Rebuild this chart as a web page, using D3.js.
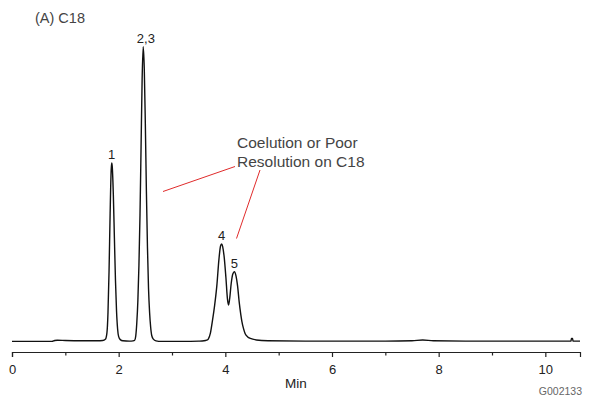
<!DOCTYPE html>
<html>
<head>
<meta charset="utf-8">
<script src="https://cdn.jsdelivr.net/npm/d3@7"></script>
<style>
  html, body { margin: 0; padding: 0; background: #fff; }
  svg { display: block; font-family: "Liberation Sans", Arial, sans-serif; }
</style>
</head>
<body>
<svg id="chart" width="589" height="399"></svg>
<script>
// chromatogram trace (time in min, signal in % of tallest peak)
var traceTime = [
    0.00, 0.40, 0.75, 0.80, 0.85, 1.00, 1.30, 1.60, 1.70, 1.75, 1.78, 1.80,
    1.82, 1.84, 1.86, 1.87, 1.88, 1.90, 1.92, 1.94, 1.96, 1.98, 2.00, 2.03,
    2.08, 2.20, 2.27, 2.30, 2.32, 2.34, 2.36, 2.38, 2.40, 2.42, 2.44, 2.46,
    2.48, 2.50, 2.52, 2.54, 2.56, 2.58, 2.60, 2.62, 2.65, 2.70, 2.80, 3.20,
    3.50, 3.60, 3.65, 3.68, 3.72, 3.76, 3.80, 3.84, 3.88, 3.91, 3.93, 3.95,
    3.98, 4.01, 4.04, 4.06, 4.08, 4.11, 4.14, 4.17, 4.20, 4.23, 4.26, 4.29,
    4.31, 4.34, 4.37, 4.42, 4.47, 4.58, 4.80, 5.50, 7.00, 7.50, 7.70, 7.90,
    8.50, 10.00, 10.48, 10.49, 10.51, 10.52, 10.65
];
var traceSignal = [
    0.2, 0.2, 0.2, 0.5, 0.6, 0.5, 0.4, 0.4, 0.5, 0.9, 3.1, 10.1,
    24.3, 43.6, 58.4, 60.6, 59.3, 49.9, 35.2, 20.9, 10.5, 4.4, 1.8, 0.8,
    0.4, 0.3, 0.4, 0.6, 2.0, 6.5, 14.0, 26.0, 43.0, 66.0, 89.0, 100,
    92.7, 73.9, 51.0, 32.0, 18.0, 10.0, 5.0, 2.2, 1.0, 0.4, 0.2, 0.2,
    0.3, 0.4, 0.6, 1.0, 3.0, 7.4, 12.5, 18.9, 28.0, 32.5, 33.2, 32.3,
    28.5, 22.0, 14.5, 12.5, 14.5, 19.8, 23.0, 23.8, 22.4, 18.9, 13.5, 9.3,
    7.0, 4.6, 2.9, 1.7, 1.2, 0.7, 0.4, 0.3, 0.3, 0.4, 0.7, 0.4,
    0.3, 0.3, 0.3, 1.2, 1.2, 0.3, 0.3
];

var peakNames = ["1", "2,3", "4", "5"];
var peakTimes = [1.87, 2.51, 3.93, 4.17];
var peakHeights = [60.6, 100, 33.2, 23.8];

var tickValues = [0, 1, 2, 3, 4, 5, 6, 7, 8, 9, 10];
var titleText = "(A) C18";
var noteLines = ["Coelution or Poor", "Resolution on C18"];
var axisTitle = "Min";
var figureCode = "G002133";

var svg = d3.select("#chart");

var x = d3.scaleLinear().domain([0, 10.65]).range([12, 580]);
var y = d3.scaleLinear().domain([0, 100]).range([342, 46.7]);

// axis
var axis = svg.append("g")
    .attr("transform", "translate(0,352)")
    .call(d3.axisBottom(x)
        .tickValues(tickValues)
        .tickSizeOuter(0)
        .tickSize(5)
        .tickPadding(8)
        .tickFormat(function (d) { return d % 2 == 0 ? d : ""; }));
axis.select(".domain").attr("stroke", "#222").attr("stroke-width", 1.2);
axis.selectAll(".tick line")
    .attr("stroke", "#222")
    .attr("stroke-width", 1.2)
    .attr("y2", function (d) { return d % 2 == 0 ? 5 : 3.5; });
axis.selectAll(".tick text")
    .attr("font-size", 13)
    .attr("fill", "#222")
    .attr("font-family", "Liberation Sans, Arial, sans-serif");

svg.append("text")
    .attr("x", (x.range()[0] + x.range()[1]) / 2)
    .attr("y", 388)
    .attr("text-anchor", "middle")
    .attr("font-size", 13.5)
    .attr("fill", "#222")
    .text(axisTitle);

// trace
var points = traceTime.map(function (t, i) { return [t, traceSignal[i]]; });
var line = d3.line()
    .x(function (d) { return x(d[0]); })
    .y(function (d) { return y(d[1]); })
    .curve(d3.curveMonotoneX);

svg.append("path")
    .datum(points)
    .attr("d", line)
    .attr("fill", "none")
    .attr("stroke", "#111")
    .attr("stroke-width", 1.4)
    .attr("stroke-linejoin", "round");

// peak labels
svg.selectAll("text.peak")
    .data(peakNames).enter().append("text")
    .attr("class", "peak")
    .attr("x", function (d, i) { return x(peakTimes[i]); })
    .attr("y", function (d, i) { return y(peakHeights[i]) - 4; })
    .attr("text-anchor", "middle")
    .attr("font-size", 13)
    .attr("fill", "#222")
    .text(function (d) { return d; });

// annotation
svg.append("line")
    .attr("x1", 163).attr("y1", 191.5)
    .attr("x2", 235).attr("y2", 166.5)
    .attr("stroke", "#e02b2b").attr("stroke-width", 1);
svg.append("line")
    .attr("x1", 260).attr("y1", 170)
    .attr("x2", 236.5).attr("y2", 238.5)
    .attr("stroke", "#e02b2b").attr("stroke-width", 1);

svg.selectAll("text.note")
    .data(noteLines).enter().append("text")
    .attr("class", "note")
    .attr("x", 237)
    .attr("y", function (d, i) { return 148 + i * 18.5; })
    .attr("font-size", 15.5)
    .attr("fill", "#444")
    .text(function (d) { return d; });

svg.append("text")
    .attr("x", 35)
    .attr("y", 23)
    .attr("font-size", 14.5)
    .attr("fill", "#444")
    .text(titleText);

svg.append("text")
    .attr("x", 582)
    .attr("y", 395)
    .attr("text-anchor", "end")
    .attr("font-size", 10.5)
    .attr("fill", "#666")
    .text(figureCode);
</script>
</body>
</html>
